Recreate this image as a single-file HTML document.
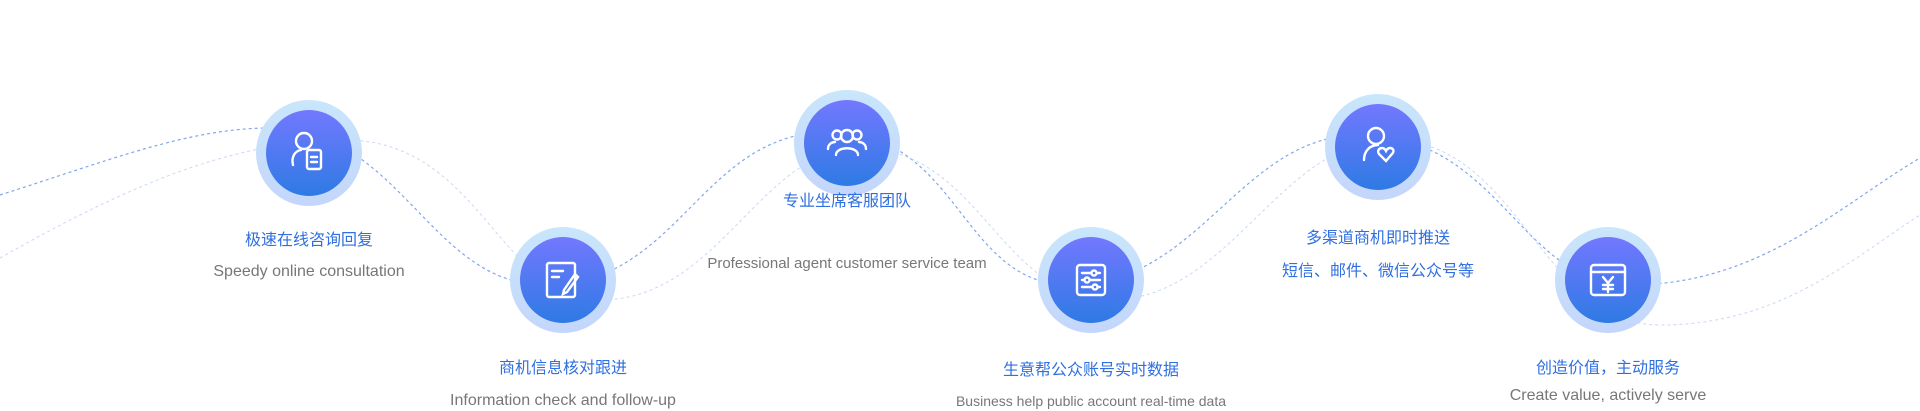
<!DOCTYPE html>
<html><head><meta charset="utf-8"><style>
html,body{margin:0;padding:0;background:#fff;}
body{width:1920px;height:411px;position:relative;overflow:hidden;font-family:"Liberation Sans","Noto Sans CJK SC",sans-serif;}
.node{position:absolute;width:106px;height:106px;border-radius:50%;background:linear-gradient(#c9e6fb,#c4d6fb);}
.node .in{position:absolute;left:10px;top:10px;width:86px;height:86px;border-radius:50%;background:linear-gradient(#7378ff,#2e7ae4);}
.node svg{position:absolute;left:23px;top:23px;}
.t{position:absolute;width:400px;text-align:center;color:#2f6fe0;font-size:16px;}
.e{position:absolute;width:400px;text-align:center;color:#777;font-size:16px;}
</style></head><body>
<svg width="1920" height="411" style="position:absolute;left:0;top:0">
<path d="M0,195 C110,160 190,128 270,128 C400,128 430,285 545,285 C680,285 700,132 830,132 C960,132 960,285 1070,285 C1200,285 1240,135 1360,135 C1500,135 1520,285 1630,285 C1760,285 1840,205 1920,158" fill="none" stroke="#7fa6ee" stroke-width="1.2" stroke-dasharray="3,3"/>
<path d="M0,258 C120,190 230,140 345,140 C480,140 500,300 600,300 C720,300 760,148 860,148 C980,148 1000,300 1110,300 C1230,300 1280,140 1390,140 C1520,140 1540,325 1660,325 C1780,325 1850,260 1920,215" fill="none" stroke="#c9d8f5" stroke-width="1" stroke-dasharray="3,3"/>
</svg>

<div class="node" style="left:256px;top:100px"><div class="in"></div>
<svg width="60" height="60" viewBox="0 0 60 60" fill="none" stroke="#fff" stroke-width="2.4" stroke-linecap="round"><circle cx="25" cy="18" r="8"/><path d="M14 42 C12 34 16 28 22 27"/><rect x="28" y="27" width="14" height="19" rx="2"/><path d="M32 34h6M32 39h6"/></svg></div>
<div class="t" style="left:109px;top:226px">极速在线咨询回复</div>
<div class="e" style="left:109px;top:263px">Speedy online consultation</div>

<div class="node" style="left:510px;top:227px"><div class="in"></div>
<svg width="60" height="60" viewBox="0 0 60 60" fill="none" stroke="#fff" stroke-width="2.4" stroke-linecap="round"><rect x="14" y="13" width="28" height="34" rx="2"/><path d="M19 21h11M19 27h7"/><path d="M42 24 L31 40 L30 44 L34 42 L45 27 Z"/></svg></div>
<div class="t" style="left:363px;top:354px">商机信息核对跟进</div>
<div class="e" style="left:363px;top:392px">Information check and follow-up</div>

<div class="node" style="left:794px;top:90px"><div class="in"></div>
<svg width="60" height="60" viewBox="0 0 60 60" fill="none" stroke="#fff" stroke-width="2.4" stroke-linecap="round"><circle cx="30" cy="23" r="6"/><path d="M19 42 C19 33 41 33 41 42"/><circle cx="20" cy="22" r="4.5"/><path d="M11 36 C11 31 15 29 18 29"/><circle cx="40" cy="22" r="4.5"/><path d="M49 36 C49 31 45 29 42 29"/></svg></div>
<div class="t" style="left:647px;top:187px">专业坐席客服团队</div>
<div class="e" style="left:647px;top:255px;font-size:15px">Professional agent customer service team</div>

<div class="node" style="left:1038px;top:227px"><div class="in"></div>
<svg width="60" height="60" viewBox="0 0 60 60" fill="none" stroke="#fff" stroke-width="2.4" stroke-linecap="round"><rect x="16" y="15" width="28" height="30" rx="3"/><path d="M21 23h18M21 30h18M21 37h18"/><circle cx="33" cy="23" r="2.5" fill="#4f78ee"/><circle cx="26" cy="30" r="2.5" fill="#4f78ee"/><circle cx="34" cy="37" r="2.5" fill="#4f78ee"/></svg></div>
<div class="t" style="left:891px;top:356px">生意帮公众账号实时数据</div>
<div class="e" style="left:891px;top:393px;font-size:14px">Business help public account real-time data</div>

<div class="node" style="left:1325px;top:94px"><div class="in"></div>
<svg width="60" height="60" viewBox="0 0 60 60" fill="none" stroke="#fff" stroke-width="2.4" stroke-linecap="round"><circle cx="28" cy="19" r="8"/><path d="M16 43 C16 34 22 28 30 28"/><path d="M38 44 L31 37 C29 34 31 31 34 31 C36 31 37 32 38 34 C39 32 40 31 42 31 C45 31 47 34 44 37 Z"/></svg></div>
<div class="t" style="left:1178px;top:224px">多渠道商机即时推送</div>
<div class="t" style="left:1178px;top:257px">短信、邮件、微信公众号等</div>

<div class="node" style="left:1555px;top:227px"><div class="in"></div>
<svg width="60" height="60" viewBox="0 0 60 60" fill="none" stroke="#fff" stroke-width="2.4" stroke-linecap="round"><rect x="13" y="15" width="34" height="30" rx="3"/><path d="M13 22h34"/><path d="M25 27l5 6 5-6M30 33v9M25 35h10M25 39h10"/></svg></div>
<div class="t" style="left:1408px;top:354px">创造价值，主动服务</div>
<div class="e" style="left:1408px;top:387px">Create value, actively serve</div>
</body></html>
